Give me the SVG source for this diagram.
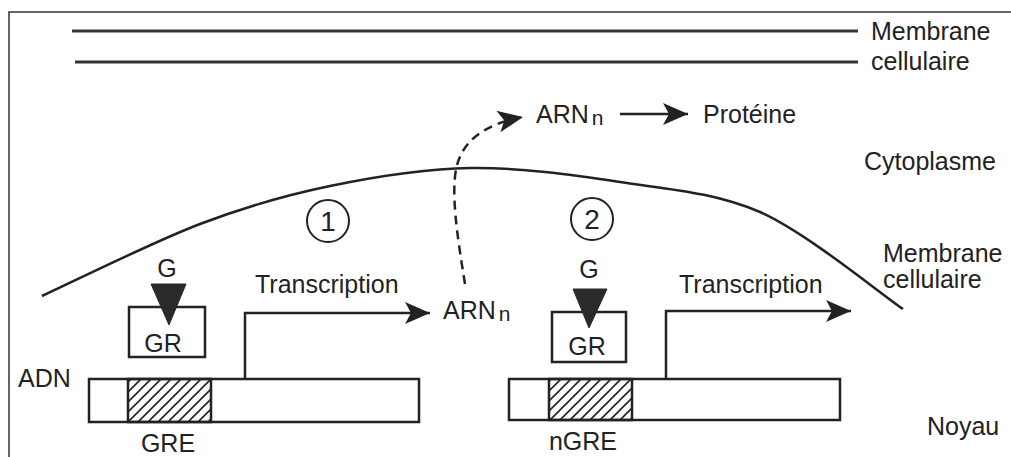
<svg xmlns="http://www.w3.org/2000/svg" width="1011" height="457" viewBox="0 0 1011 457">
<defs>
<style>
text{font-family:"Liberation Sans",Arial,sans-serif;font-size:25px;fill:#222}
.c{text-anchor:middle}
.num{font-size:28px}
.ln{fill:none;stroke:#222;stroke-width:2.5}
.box{fill:#fff;stroke:#222;stroke-width:2.5}
.tri{fill:#2a2a2a;stroke:#2a2a2a;stroke-width:1;stroke-linejoin:round}
.sub{font-size:21px}
</style>
<pattern id="hatch" patternUnits="userSpaceOnUse" width="10" height="10">
<path d="M-2,2 L2,-2 M0,10 L10,0 M8,12 L12,8" stroke="#222" stroke-width="1.6"/>
</pattern>
<marker id="ah" markerUnits="userSpaceOnUse" markerWidth="30" markerHeight="26" refX="26" refY="13" orient="auto" viewBox="0 0 30 26">
<path d="M26,13 L1,2 L7,13 L1,24 Z" fill="#222"/>
</marker>
</defs>
<rect width="1011" height="457" fill="#fff"/>
<rect x="9" y="12" width="1020" height="470" fill="none" stroke="#333" stroke-width="1.5"/>

<g id="membrane-top">
<line x1="72" y1="31" x2="858" y2="31" stroke="#333" stroke-width="3"/>
<line x1="75" y1="62" x2="858" y2="62" stroke="#333" stroke-width="3"/>
<text x="871" y="40">Membrane</text>
<text x="871" y="70">cellulaire</text>
</g>

<g id="nuclear-membrane">
<path class="ln" d="M42,296 C68.3,284 152,242.3 200,224 C248,205.7 285,195.3 330,186 C375,176.7 421.7,168.7 470,168 C518.3,167.3 571.7,174.7 620,182 C668.3,189.3 712.8,192 760,212 C807.2,233.2 879.2,292.8 903,309"/>
<text x="883" y="262">Membrane</text>
<text x="883" y="288">cellulaire</text>
</g>

<g id="labels">
<text x="864" y="170">Cytoplasme</text>
<text x="927" y="435">Noyau</text>
<text x="18" y="387">ADN</text>
</g>

<g id="arn-cyto">
<text x="536" y="123">ARN<tspan class="sub" dx="3" dy="2">n</tspan></text>
</g>
<g id="proteine">
<text x="703" y="123">Protéine</text>
</g>

<g id="step1">
<circle cx="328" cy="221" r="21" fill="none" stroke="#222" stroke-width="2"/>
<text class="c num" x="328" y="231">1</text>
</g>
<g id="step2">
<circle cx="592" cy="219" r="21" fill="none" stroke="#222" stroke-width="2"/>
<text class="c num" x="592" y="229">2</text>
</g>

<g id="gr1">
<text class="c" x="167" y="277">G</text>
<rect class="box" x="129" y="307" width="76" height="50"/>
<polygon class="tri" points="151,284 186,284 169,325"/>
<text class="c" x="163" y="352">GR</text>
</g>
<g id="gr2">
<text class="c" x="589" y="278">G</text>
<rect class="box" x="552" y="312" width="74" height="50"/>
<polygon class="tri" points="573,289 607,289 589,328"/>
<text class="c" x="587" y="355">GR</text>
</g>

<g id="dna1">
<rect class="box" x="89" y="379" width="330" height="43"/>
<rect x="128" y="379" width="83" height="43" fill="url(#hatch)" stroke="#222" stroke-width="2.5"/>
<text class="c" x="168" y="452">GRE</text>
</g>
<g id="dna2">
<rect class="box" x="509" y="379" width="331" height="41"/>
<rect x="549" y="379" width="83" height="41" fill="url(#hatch)" stroke="#222" stroke-width="2.5"/>
<text class="c" x="583" y="450">nGRE</text>
</g>

<g id="arn-nuc">
<text x="443" y="319">ARN<tspan class="sub" dx="3" dy="2">n</tspan></text>
</g>

<g id="connectors">
<path class="ln" d="M245,379 V313 H430" marker-end="url(#ah)"/>
<text x="255" y="293">Transcription</text>
<path class="ln" d="M666,379 V311 H851" marker-end="url(#ah)"/>
<text x="679" y="293">Transcription</text>
<path class="ln" d="M620,114 H688" marker-end="url(#ah)"/>
<path class="ln" d="M465,284 C458,240 450,192 457,165 C464,140 485,124 523,117" stroke-dasharray="9,6" marker-end="url(#ah)"/>
</g>
</svg>
